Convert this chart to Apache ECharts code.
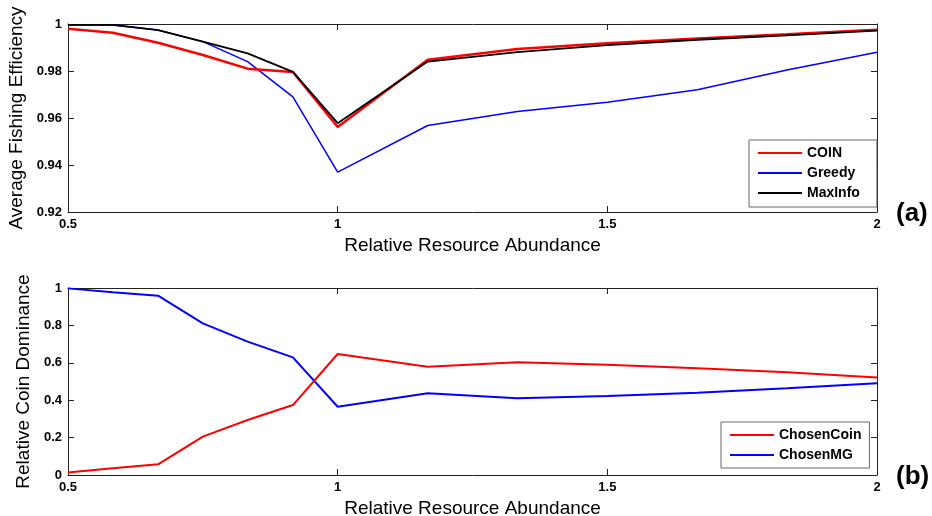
<!DOCTYPE html>
<html>
<head>
<meta charset="utf-8">
<script src="https://cdn.jsdelivr.net/npm/echarts@6/dist/echarts.min.js"></script>
<style>
html,body{margin:0;padding:0;background:#fff;}
#chart{width:932px;height:516px;}
</style>
</head>
<body>
<div id="chart"></div>
<script>
// Top panel (a)
const abundance = [0.5, 0.583, 0.667, 0.75, 0.833, 0.917, 1, 1.167, 1.333, 1.5, 1.667, 1.833, 2];
const coin    = [0.998, 0.9963, 0.992, 0.9868, 0.981, 0.9796, 0.9562, 0.9848, 0.9894, 0.9918, 0.9938, 0.9956, 0.9976];
const greedy  = [0.9996, 0.9996, 0.9974, 0.9925, 0.984, 0.969, 0.937, 0.9568, 0.9628, 0.9667, 0.972, 0.9804, 0.988];
const maxInfo = [0.9996, 0.9996, 0.9974, 0.9925, 0.9875, 0.9796, 0.9578, 0.984, 0.988, 0.991, 0.9933, 0.9952, 0.9972];
// Bottom panel (b)
const chosenCoin = [0.014, 0.036, 0.057, 0.205, 0.294, 0.374, 0.647, 0.579, 0.603, 0.589, 0.571, 0.549, 0.522];
const chosenMG   = [0.998, 0.977, 0.959, 0.811, 0.713, 0.629, 0.365, 0.437, 0.41, 0.423, 0.44, 0.464, 0.49];

const xTitle = 'Relative Resource Abundance';
const yTitleTop = 'Average Fishing Efficiency';
const yTitleBottom = 'Relative Coin Dominance';

const pair = (xs, ys) => xs.map((x, i) => [x, ys[i]]);
const tickFont = {fontFamily: '"Liberation Sans", Arial, sans-serif', fontWeight: 'bold', fontSize: 13, color: '#000'};
const titleFont = {fontFamily: '"Liberation Sans", Arial, sans-serif', fontSize: 19, color: '#000'};
const fmt = v => String(+v.toFixed(2));

function xAx(grid, primary) {
  return {
    type: 'value', gridIndex: grid, min: 0.5, max: 2, interval: 0.5,
    position: primary ? 'bottom' : 'top',
    axisLine: {show: true, onZero: false, lineStyle: {color: '#222', width: 1}},
    axisTick: {show: true, inside: true, length: 6, lineStyle: {color: '#222'}},
    axisLabel: primary ? Object.assign({show: true, margin: 6, formatter: fmt}, tickFont) : {show: false},
    splitLine: {show: false},
    name: primary ? xTitle : '', nameLocation: 'middle', nameGap: 24,
    nameTextStyle: titleFont
  };
}
function yAx(grid, primary, min, max, interval, title) {
  return {
    type: 'value', gridIndex: grid, min: min, max: max, interval: interval,
    position: primary ? 'left' : 'right',
    axisLine: {show: true, onZero: false, lineStyle: {color: '#222', width: 1}},
    axisTick: {show: true, inside: true, length: 6, lineStyle: {color: '#222'}},
    axisLabel: primary ? Object.assign({show: true, margin: 6, formatter: fmt}, tickFont) : {show: false},
    splitLine: {show: false},
    name: primary ? title : '', nameLocation: 'middle', nameGap: 35,
    nameTextStyle: titleFont
  };
}

const chart = echarts.init(document.getElementById('chart'), null, {renderer: 'canvas'});
const legendText = {fontFamily: '"Liberation Sans", Arial, sans-serif', fontWeight: 'bold', fontSize: 14, color: '#000'};
chart.setOption({
  backgroundColor: '#fff',
  animation: false,
  grid: [
    {left: 68, right: 55, top: 24, height: 188, containLabel: false, outerBoundsMode: 'none'},
    {left: 68, right: 55, top: 288, height: 187, containLabel: false, outerBoundsMode: 'none'}
  ],
  xAxis: [xAx(0, true), xAx(0, false), xAx(1, true), xAx(1, false)],
  yAxis: [
    yAx(0, true, 0.92, 1, 0.02, yTitleTop), yAx(0, false, 0.92, 1, 0.02, ''),
    yAx(1, true, 0, 1, 0.2, yTitleBottom), yAx(1, false, 0, 1, 0.2, '')
  ],
  legend: [
    {
      data: ['COIN', 'Greedy', 'MaxInfo'], orient: 'vertical',
      left: 749, top: 140, itemWidth: 44, itemHeight: 2, itemGap: 6, icon: 'rect',
      padding: [6, 17, 7, 9], backgroundColor: '#fff', borderColor: '#666', borderWidth: 1, borderRadius: 0,
      textStyle: legendText, selectedMode: false
    },
    {
      data: ['ChosenCoin', 'ChosenMG'], orient: 'vertical',
      left: 721, top: 422, itemWidth: 44, itemHeight: 2, itemGap: 6, icon: 'rect',
      padding: [6, 8, 6, 9], backgroundColor: '#fff', borderColor: '#666', borderWidth: 1, borderRadius: 0,
      textStyle: legendText, selectedMode: false
    }
  ],
  graphic: [
    {type: 'text', left: 896, top: 201, style: {text: '(a)', font: 'bold 26px "Liberation Sans", Arial, sans-serif', fill: '#000'}},
    {type: 'text', left: 896, top: 464, style: {text: '(b)', font: 'bold 26px "Liberation Sans", Arial, sans-serif', fill: '#000'}}
  ],
  series: [
    {name: 'Greedy', type: 'line', xAxisIndex: 0, yAxisIndex: 0, data: pair(abundance, greedy), showSymbol: false, symbol: 'none', lineStyle: {color: '#0000ff', width: 1.5}, itemStyle: {color: '#0000ff'}, z: 2},
    {name: 'COIN', type: 'line', xAxisIndex: 0, yAxisIndex: 0, data: pair(abundance, coin), showSymbol: false, symbol: 'none', lineStyle: {color: '#ff0000', width: 2.5}, itemStyle: {color: '#ff0000'}, z: 3},
    {name: 'MaxInfo', type: 'line', xAxisIndex: 0, yAxisIndex: 0, data: pair(abundance, maxInfo), showSymbol: false, symbol: 'none', lineStyle: {color: '#000000', width: 1.8}, itemStyle: {color: '#000000'}, z: 4},
    {name: 'ChosenCoin', type: 'line', xAxisIndex: 2, yAxisIndex: 2, data: pair(abundance, chosenCoin), showSymbol: false, symbol: 'none', lineStyle: {color: '#ff0000', width: 2}, itemStyle: {color: '#ff0000'}, z: 3},
    {name: 'ChosenMG', type: 'line', xAxisIndex: 2, yAxisIndex: 2, data: pair(abundance, chosenMG), showSymbol: false, symbol: 'none', lineStyle: {color: '#0000ff', width: 2}, itemStyle: {color: '#0000ff'}, z: 2}
  ]
});
</script>
</body>
</html>
